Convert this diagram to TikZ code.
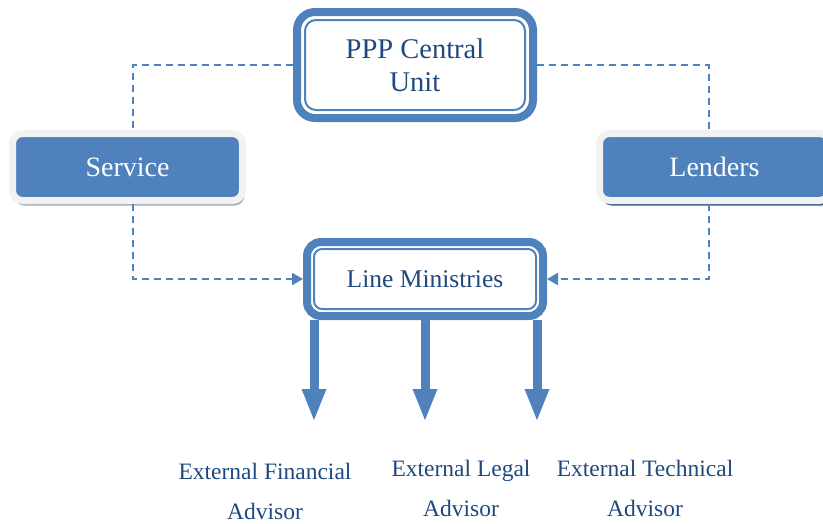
\documentclass[tikz,border=0pt]{standalone}
\usepackage{fontspec}
\setmainfont{Liberation Serif}
\usetikzlibrary{shapes,arrows.meta,positioning,shadows}
\definecolor{boxblue}{HTML}{4F81BD}
\definecolor{textblue}{HTML}{1F497D}
\definecolor{rimgray}{HTML}{F2F2F2}
\definecolor{shadegray}{HTML}{A3ADBE}
\definecolor{shadeblue}{HTML}{3E5B86}
\tikzstyle{unit} = [rectangle, draw=boxblue, line width=8pt, fill=white, rounded corners=18pt, text=textblue, align=center]
\tikzstyle{party} = [rectangle, draw=rimgray, line width=7pt, fill=boxblue, rounded corners=10pt, text=white, minimum width=230pt, minimum height=67pt, font=\fontsize{28}{32}\selectfont]
\tikzstyle{link} = [draw=boxblue, line width=2pt, dash pattern=on 7pt off 5pt]
\tikzstyle{linkarrow} = [link, -{Triangle[length=11pt,width=12pt]}]
\tikzstyle{feed} = [draw=boxblue, line width=9pt, -{Triangle[length=33pt,width=22pt]}]
\tikzstyle{advisor} = [text=textblue, align=center, inner sep=0pt, font=\fontsize{23.5}{40}\selectfont]

\begin{document}
\begin{tikzpicture}[x=1pt, y=-1pt]
    \useasboundingbox (0,0) rectangle (823,523);
    \clip (0,0) rectangle (823,523);
    % Place nodes
    \node [unit, minimum width=236pt, minimum height=106pt, font=\fontsize{28.5}{33}\selectfont] (ppp) at (415,65) {PPP Central\\Unit};
    \draw [boxblue, line width=2pt, rounded corners=11pt] ([shift={(12pt,-12pt)}]ppp.north west) rectangle ([shift={(-12pt,12pt)}]ppp.south east);
    \node [party, drop shadow={shadow xshift=2pt, shadow yshift=-5pt, fill=shadegray, opacity=1}] (service) at (127.5,167) {Service};
    \node [party, drop shadow={shadow xshift=2pt, shadow yshift=-5pt, fill=shadeblue, opacity=1}] (lenders) at (714.5,167) {Lenders};
    \node [unit, minimum width=236pt, minimum height=74pt, rounded corners=14pt, font=\fontsize{25.5}{28}\selectfont] (lm) at (425,279) {Line Ministries};
    \draw [boxblue, line width=2pt, rounded corners=8pt] ([shift={(11pt,-11pt)}]lm.north west) rectangle ([shift={(-11pt,11pt)}]lm.south east);
    \node [advisor] (fin) at (265,491) {External Financial\\Advisor};
    \node [advisor] (legal) at (461,488) {External Legal\\Advisor};
    \node [advisor] (tech) at (645,488) {External Technical\\Advisor};
    \coordinate (fintip) at (314,422);
    \coordinate (legaltip) at (425,422);
    \coordinate (techtip) at (537,422);
    % Draw edges
    \path [link] (ppp.west) -| ([xshift=5.5pt]service.north);
    \path [link] (ppp.east) -| ([xshift=-6pt]lenders.north);
    \path [linkarrow] ([xshift=5.5pt]service.south) |- (lm.west);
    \path [linkarrow] ([xshift=-6pt]lenders.south) |- (lm.east);
    \path [feed] (lm.south -| fintip) -- (fintip);
    \path [feed] (lm.south -| legaltip) -- (legaltip);
    \path [feed] (lm.south -| techtip) -- (techtip);

\end{tikzpicture}
\end{document}
